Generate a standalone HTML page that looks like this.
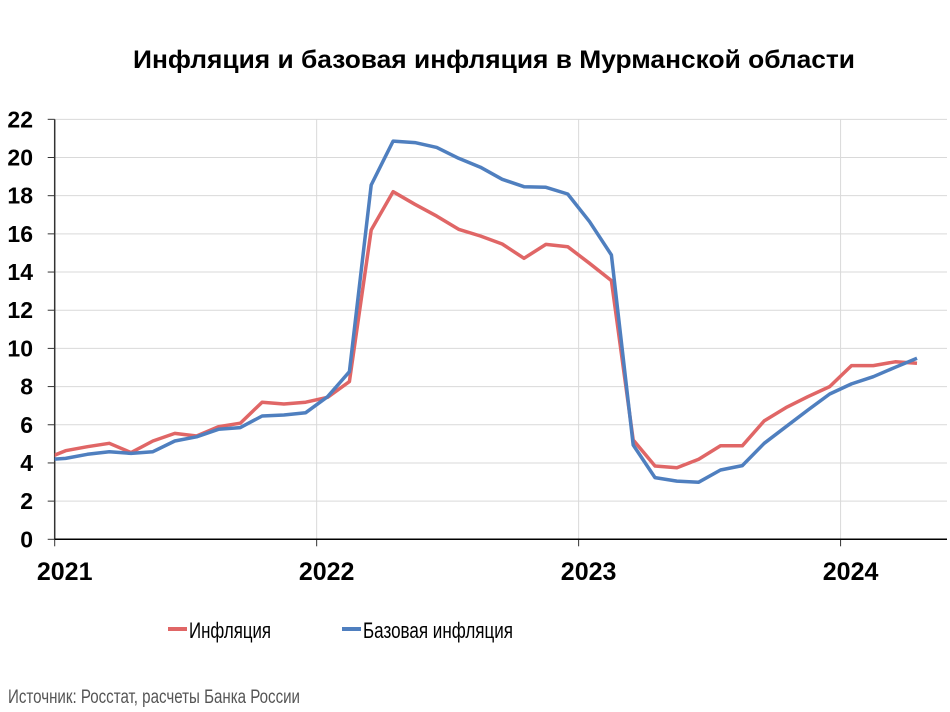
<!DOCTYPE html>
<html><head><meta charset="utf-8"><style>
html,body{margin:0;padding:0;background:#fff;}
svg{display:block;font-family:"Liberation Sans",sans-serif;}
</style></head><body>
<svg id="chart" width="950" height="712">
<text x="133" y="68" font-size="25" font-weight="bold" fill="#000" textLength="722" lengthAdjust="spacingAndGlyphs">Инфляция и базовая инфляция в Мурманской области</text>
<g id="grid"></g>
<g id="axes"></g>
<defs><clipPath id="plotclip"><rect x="54.7" y="100" width="900" height="450"/></clipPath></defs>
<g id="series" clip-path="url(#plotclip)"></g>
<g>
<line x1="168" y1="629" x2="187" y2="629" stroke="#e06666" stroke-width="4"/>
<text x="189" y="638" font-size="22" fill="#000" textLength="82" lengthAdjust="spacingAndGlyphs">Инфляция</text>
<line x1="342" y1="629" x2="361" y2="629" stroke="#4f7fbf" stroke-width="4"/>
<text x="363" y="638" font-size="22" fill="#000" textLength="150" lengthAdjust="spacingAndGlyphs">Базовая инфляция</text>
</g>
<text x="8" y="703" font-size="19" fill="#555" textLength="292" lengthAdjust="spacingAndGlyphs">Источник: Росстат, расчеты Банка России</text>
</svg>
<script>
const yTicks=[0,2,4,6,8,10,12,14,16,18,20,22];
const yearLabels=["2021","2022","2023","2024"];
// monthly values from Dec 2020 (index -1) to Apr 2024 (index 39)
const inflation=[4.18,4.64,4.85,5.03,4.54,5.15,5.55,5.41,5.9,6.08,7.18,7.09,7.18,7.44,8.26,16.2,18.21,17.55,16.93,16.24,15.89,15.47,14.72,15.45,15.33,14.46,13.55,5.2,3.84,3.75,4.19,4.9,4.9,6.2,6.9,7.47,8.0,9.1,9.1,9.3,9.22];
const coreInflation=[4.16,4.24,4.45,4.59,4.5,4.59,5.15,5.37,5.76,5.85,6.46,6.51,6.63,7.47,8.78,18.56,20.86,20.78,20.53,19.96,19.49,18.86,18.47,18.44,18.09,16.64,14.89,4.94,3.23,3.05,2.99,3.63,3.86,5.03,5.9,6.77,7.61,8.14,8.52,9.01,9.48];
const NS="http://www.w3.org/2000/svg";
const x0=54.7,monthW=21.83,yBase=539.3,yUnit=19.09,xEnd=947;
function xScale(i){return x0+monthW*(i+0.5);}
function yScale(v){return yBase-v*yUnit;}
function mk(tag,attrs,parent){const e=document.createElementNS(NS,tag);for(const k in attrs)e.setAttribute(k,attrs[k]);parent.appendChild(e);return e;}
const grid=document.getElementById('grid'),axes=document.getElementById('axes'),series=document.getElementById('series');
yTicks.forEach(v=>{
  if(v>0){const g=mk('line',{x1:x0,x2:xEnd,y1:yScale(v),y2:yScale(v),stroke:'#d9d9d9','stroke-width':1},grid);
  
  }
  const t=mk('line',{x1:x0-7,x2:x0,y1:yScale(v),y2:yScale(v),stroke:'#333','stroke-width':1},axes);
  
  
  const l=mk('text',{x:33,y:yScale(v)+8,'text-anchor':'end','font-size':23,'font-weight':'bold',fill:'#000'},axes);
  l.textContent=v;
  
  
});
yearLabels.forEach((y,k)=>{
  const x=x0+monthW*12*k;
  if(k>0){const g=mk('line',{x1:x,x2:x,y1:yScale(22),y2:yBase,stroke:'#d9d9d9','stroke-width':1},grid);
  
  }
  const t=mk('line',{x1:x,x2:x,y1:yBase,y2:yBase+7,stroke:'#333','stroke-width':1},axes);
  
  
  const l=mk('text',{x:x+10,y:580,'text-anchor':'middle','font-size':25,'font-weight':'bold',fill:'#000'},axes);
  l.textContent=y;
  
  
});
const ya=mk('line',{x1:x0,x2:x0,y1:yScale(22),y2:yBase,stroke:'#333','stroke-width':1.5},axes);


const xa=mk('line',{x1:x0,x2:xEnd,y1:yBase,y2:yBase,stroke:'#000','stroke-width':1.5},axes);


function pts(arr){return arr.map((v,i)=>xScale(i-1).toFixed(1)+','+yScale(v).toFixed(1)).join(' ');}
const p1=mk('polyline',{points:pts(inflation),fill:'none',stroke:'#e06666','stroke-width':3.5,'stroke-linejoin':'round'},series);


const p2=mk('polyline',{points:pts(coreInflation),fill:'none',stroke:'#4f7fbf','stroke-width':3.5,'stroke-linejoin':'round'},series);


</script>
</body></html>
